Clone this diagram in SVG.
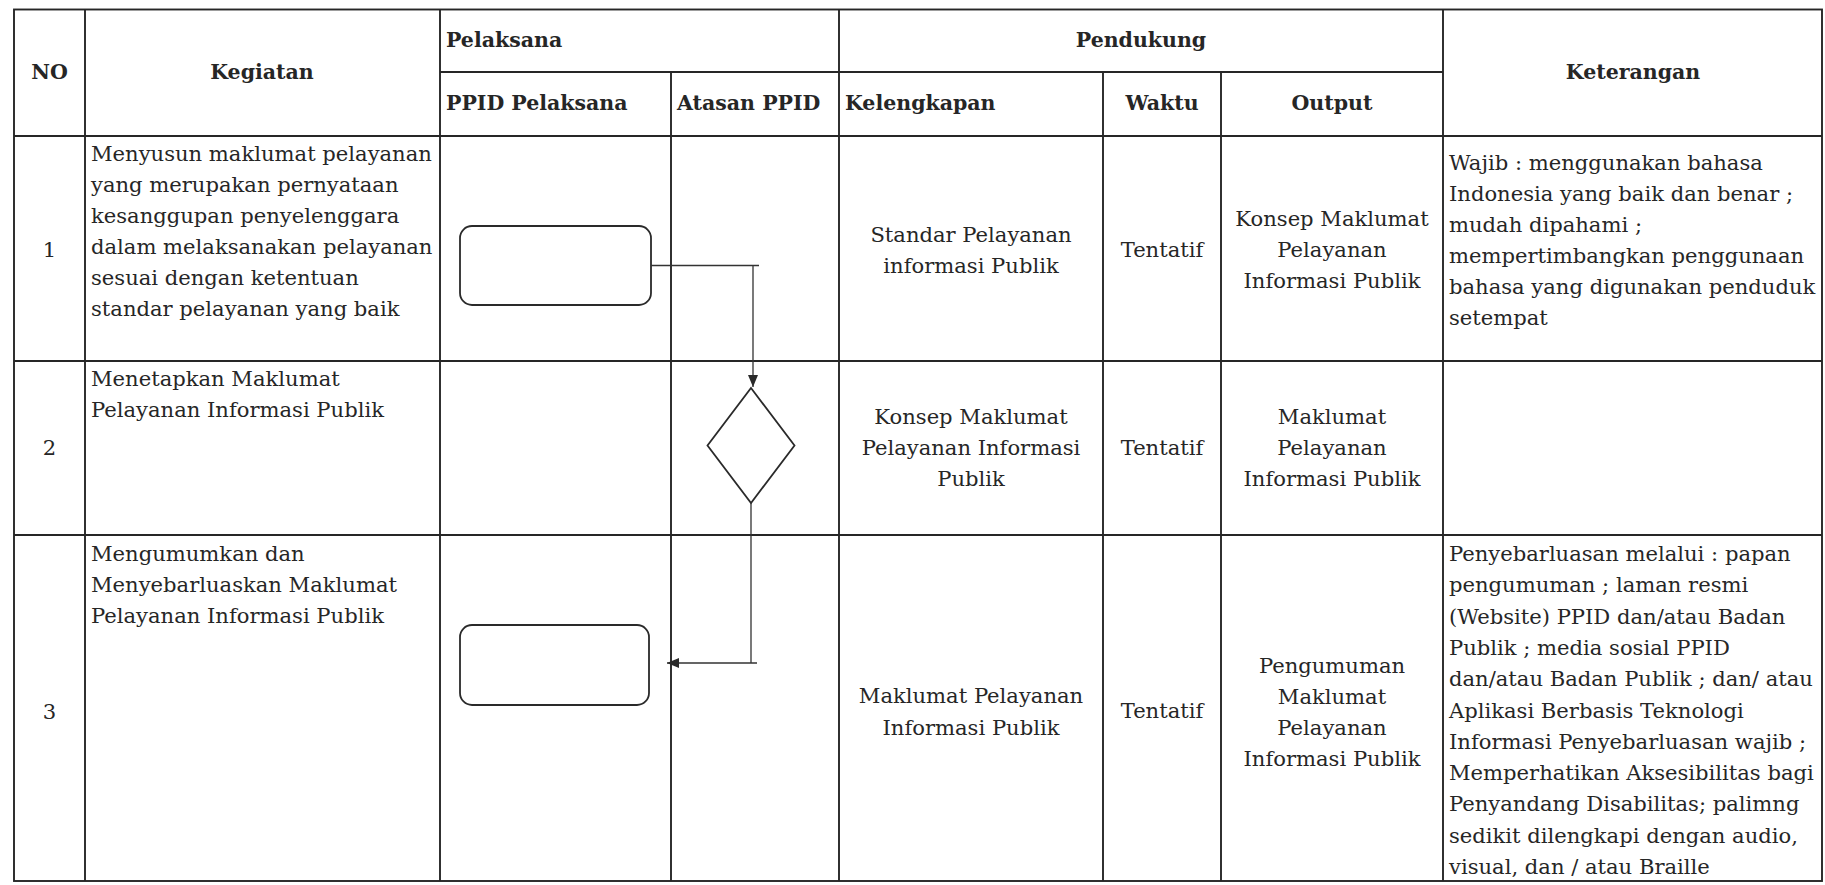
<svg xmlns="http://www.w3.org/2000/svg" width="1825" height="885" viewBox="0 0 1825 885">
<style>
  .bg { fill: #ffffff; }
  .grid { stroke: #262626; stroke-width: 1.9; fill: none; }
  .shape { stroke: #2a2a2a; stroke-width: 1.8; fill: #ffffff; }
  .conn { stroke: #333333; stroke-width: 1.3; fill: none; }
  text { font-family: "DejaVu Serif", "Liberation Serif", serif; font-size: 21.1px; fill: #262626; }
  .b { font-weight: bold; font-size: 20.5px; }
  .c { text-anchor: middle; }
</style>
<defs>
  <marker id="arrow" viewBox="0 0 12 10" refX="12" refY="5" markerWidth="12" markerHeight="10" markerUnits="userSpaceOnUse" orient="auto">
    <path d="M0,0 L12,5 L0,10 z" fill="#2a2a2a"/>
  </marker>
</defs>
<rect class="bg" x="0" y="0" width="1825" height="885"/>

<g id="table">
  <rect class="grid" x="14" y="9.5" width="1808" height="871.5"/>
  <line class="grid" x1="440" y1="72" x2="1443" y2="72"/>
  <line class="grid" x1="14" y1="136" x2="1822" y2="136"/>
  <line class="grid" x1="14" y1="361" x2="1822" y2="361"/>
  <line class="grid" x1="14" y1="535" x2="1822" y2="535"/>
  <line class="grid" x1="85" y1="9.5" x2="85" y2="881"/>
  <line class="grid" x1="440" y1="9.5" x2="440" y2="881"/>
  <line class="grid" x1="671" y1="72" x2="671" y2="881"/>
  <line class="grid" x1="839" y1="9.5" x2="839" y2="881"/>
  <line class="grid" x1="1103" y1="72" x2="1103" y2="881"/>
  <line class="grid" x1="1221" y1="72" x2="1221" y2="881"/>
  <line class="grid" x1="1443" y1="9.5" x2="1443" y2="881"/>
</g>

<g id="header">
  <text class="b c" x="49.5" y="79">NO</text>
  <text class="b c" x="262" y="79">Kegiatan</text>
  <text class="b" x="446" y="47">Pelaksana</text>
  <text class="b c" x="1141" y="47">Pendukung</text>
  <text class="b" x="446" y="110">PPID Pelaksana</text>
  <text class="b" x="677" y="110">Atasan PPID</text>
  <text class="b" x="845" y="110">Kelengkapan</text>
  <text class="b c" x="1162" y="110">Waktu</text>
  <text class="b c" x="1332" y="110">Output</text>
  <text class="b c" x="1633" y="79">Keterangan</text>
</g>

<g id="row1-text">
  <text class="c" x="49.5" y="257">1</text>
  <text x="91" y="161">Menyusun maklumat pelayanan</text>
  <text x="91" y="192">yang merupakan pernyataan</text>
  <text x="91" y="223">kesanggupan penyelenggara</text>
  <text x="91" y="254">dalam melaksanakan pelayanan</text>
  <text x="91" y="285">sesuai dengan ketentuan</text>
  <text x="91" y="316">standar pelayanan yang baik</text>
  <text class="c" x="971" y="242">Standar Pelayanan</text>
  <text class="c" x="971" y="273">informasi Publik</text>
  <text class="c" x="1162" y="257">Tentatif</text>
  <text class="c" x="1332" y="226">Konsep Maklumat</text>
  <text class="c" x="1332" y="257">Pelayanan</text>
  <text class="c" x="1332" y="288">Informasi Publik</text>
  <text x="1449" y="170">Wajib : menggunakan bahasa</text>
  <text x="1449" y="201">Indonesia yang baik dan benar ;</text>
  <text x="1449" y="232">mudah dipahami ;</text>
  <text x="1449" y="263">mempertimbangkan penggunaan</text>
  <text x="1449" y="294">bahasa yang digunakan penduduk</text>
  <text x="1449" y="325">setempat</text>
</g>

<g id="row2-text">
  <text class="c" x="49.5" y="455">2</text>
  <text x="91" y="386">Menetapkan Maklumat</text>
  <text x="91" y="417">Pelayanan Informasi Publik</text>
  <text class="c" x="971" y="424">Konsep Maklumat</text>
  <text class="c" x="971" y="455">Pelayanan Informasi</text>
  <text class="c" x="971" y="486">Publik</text>
  <text class="c" x="1162" y="455">Tentatif</text>
  <text class="c" x="1332" y="424">Maklumat</text>
  <text class="c" x="1332" y="455">Pelayanan</text>
  <text class="c" x="1332" y="486">Informasi Publik</text>
</g>

<g id="row3-text">
  <text class="c" x="49.5" y="719">3</text>
  <text x="91" y="561">Mengumumkan dan</text>
  <text x="91" y="592">Menyebarluaskan Maklumat</text>
  <text x="91" y="623">Pelayanan Informasi Publik</text>
  <text class="c" x="971" y="703">Maklumat Pelayanan</text>
  <text class="c" x="971" y="735">Informasi Publik</text>
  <text class="c" x="1162" y="718">Tentatif</text>
  <text class="c" x="1332" y="673">Pengumuman</text>
  <text class="c" x="1332" y="704">Maklumat</text>
  <text class="c" x="1332" y="735">Pelayanan</text>
  <text class="c" x="1332" y="766">Informasi Publik</text>
  <text x="1449" y="561">Penyebarluasan melalui : papan</text>
  <text x="1449" y="592.3">pengumuman ; laman resmi</text>
  <text x="1449" y="623.6">(Website) PPID dan/atau Badan</text>
  <text x="1449" y="654.9">Publik ; media sosial PPID</text>
  <text x="1449" y="686.2">dan/atau Badan Publik ; dan/ atau</text>
  <text x="1449" y="717.5">Aplikasi Berbasis Teknologi</text>
  <text x="1449" y="748.8">Informasi Penyebarluasan wajib ;</text>
  <text x="1449" y="780.1">Memperhatikan Aksesibilitas bagi</text>
  <text x="1449" y="811.4">Penyandang Disabilitas; palimng</text>
  <text x="1449" y="842.7">sedikit dilengkapi dengan audio,</text>
  <text x="1449" y="874">visual, dan / atau Braille</text>
</g>

<g id="node-menyusun">
  <rect class="shape" x="460" y="226" width="191" height="79" rx="12" ry="12"/>
</g>
<g id="node-menetapkan">
  <polygon class="shape" points="751,388 794.5,445.5 751,503 707.5,445.5"/>
</g>
<g id="node-mengumumkan">
  <rect class="shape" x="460" y="625" width="189" height="80" rx="12" ry="12"/>
</g>

<g id="connectors">
  <path class="conn" d="M651,265.5 H759 M753,265.5 V387" marker-end="url(#arrow)"/>
  <path class="conn" d="M757,663 H751 M751,503 V663 H667" marker-end="url(#arrow)"/>
</g>
</svg>
